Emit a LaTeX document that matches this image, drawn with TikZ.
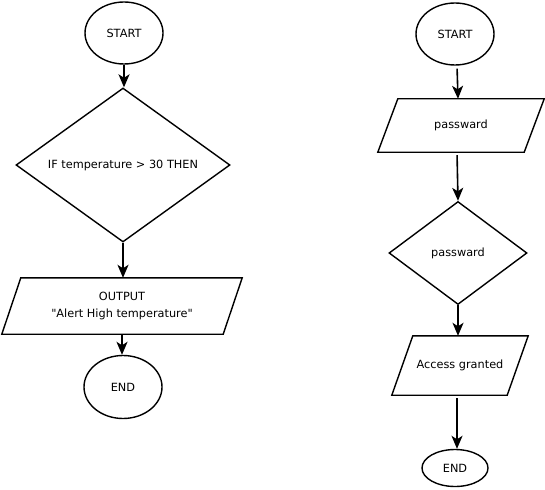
\documentclass[tikz,border=0pt]{standalone}
\usepackage{fontspec}
\setmainfont{DejaVu Sans}[Ligatures=TeXOff]
\usetikzlibrary{shapes.geometric,arrows.meta}
\begin{document}
\begin{tikzpicture}[x=1pt,y=-1pt,
  every node/.style={font=\fontsize{11.3}{17}\selectfont, inner sep=0pt, align=center},
  term/.style={ellipse, draw, line width=1.4pt},
  decide/.style={diamond, draw, line width=1.4pt},
  io/.style={rectangle, draw=none},
  para/.style={line width=1.4pt, line join=miter},
  flow/.style={line width=1.6pt, -{Stealth[length=13pt,width=11pt,inset=3.5pt]}}
]
\useasboundingbox (0,0) rectangle (545,489);
% left flowchart
\node[term, minimum width=78, minimum height=62] (s1) at (124,33) {START};
\node[decide, aspect=1.39, minimum width=214, minimum height=154] (d1) at (123,165) {IF temperature > 30 THEN};
\node[io, minimum width=221, minimum height=56] (p1) at (122,306) {OUTPUT\\"Alert High temperature"};
\draw[para] ([xshift=9.5]p1.north west) -- ([xshift=9.5]p1.north east) -- ([xshift=-9.5]p1.south east) -- ([xshift=-9.5]p1.south west) -- cycle;
\node[term, minimum width=78, minimum height=63] (e1) at (123,387) {END};
\draw[flow] (s1.south) -- (s1.south |- d1.north);
\draw[flow] (d1.south) -- (d1.south |- p1.north);
\draw[flow] (p1.south) -- (p1.south |- e1.north);
% right flowchart
\node[term, minimum width=78, minimum height=62] (s2) at (455,34) {START};
\node[io, minimum width=146, minimum height=53] (p2) at (461,125.5) {passward};
\draw[para] ([xshift=10]p2.north west) -- ([xshift=10]p2.north east) -- ([xshift=-10]p2.south east) -- ([xshift=-10]p2.south west) -- cycle;
\node[decide, aspect=1.34, minimum width=138, minimum height=103] (d2) at (458,253) {passward};
\node[io, minimum width=115, minimum height=59] (p3) at (460,365.5) {Access granted};
\draw[para] ([xshift=10.5]p3.north west) -- ([xshift=10.5]p3.north east) -- ([xshift=-10.5]p3.south east) -- ([xshift=-10.5]p3.south west) -- cycle;
\node[term, minimum width=66, minimum height=37] (e2) at (455,468) {END};
\draw[flow, shorten <=3pt] ([xshift=2]s2.south) -- ([xshift=-3]p2.north);
\draw[flow, shorten <=3pt] ([xshift=-4]p2.south) -- (d2.north);
\draw[flow] (d2.south) -- (d2.south |- p3.north);
\draw[flow, shorten <=3pt] ([xshift=-3]p3.south) -- ([xshift=2]e2.north);
\end{tikzpicture}
\end{document}
